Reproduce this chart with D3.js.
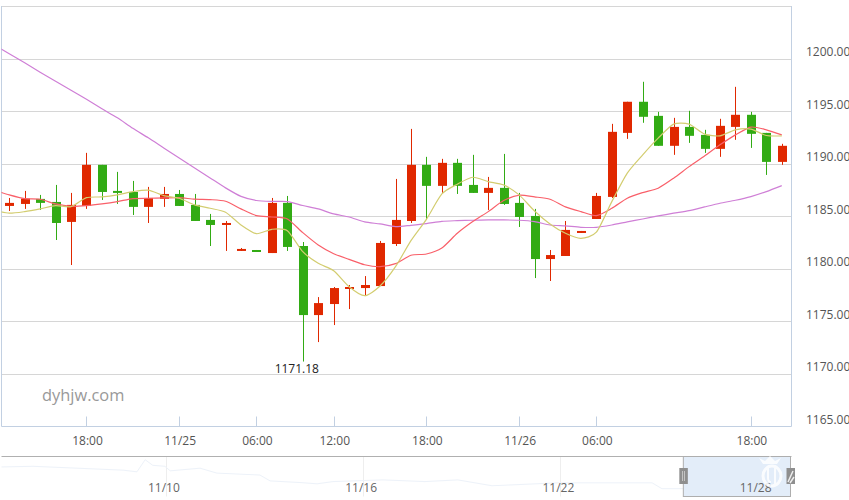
<!DOCTYPE html>
<html>
<head>
    <meta charset="UTF-8">
    <title>K line</title>
    <script src="https://cdn.jsdelivr.net/npm/d3@7/dist/d3.min.js"></script>
    <style>
        html, body { margin: 0; padding: 0; background: #fff; }
        text { font-family: "Open Sans", "Noto Sans", sans-serif; }
    </style>
</head>
<body>
<div id="chart"></div>
<script>
    // candle values, one entry per period
    const opens = [1185.98,1186.17,1186.65,1186.36,1184.46,1185.98,1189.89,1187.41,1187.31,1185.89,1186.65,1187.12,1186.08,1184.65,1184.17,1181.70,1181.79,1181.50,1186.27,1182.17,1175.60,1176.65,1178.08,1178.17,1178.36,1182.36,1184.55,1189.89,1187.89,1190.08,1187.98,1187.22,1187.70,1186.27,1185.03,1180.93,1181.22,1183.41,1184.74,1186.84,1192.93,1195.89,1194.55,1191.70,1193.50,1192.74,1191.41,1193.50,1194.65,1192.93,1190.17];
    const closes = [1186.27,1186.68,1186.27,1184.36,1186.08,1189.89,1187.31,1187.22,1185.89,1186.74,1187.12,1185.98,1184.55,1184.17,1184.36,1181.89,1181.60,1186.27,1182.08,1175.60,1176.74,1178.17,1178.27,1178.46,1182.46,1184.65,1189.89,1187.89,1190.08,1187.89,1187.22,1187.70,1186.17,1184.93,1180.93,1181.31,1183.70,1183.60,1186.93,1193.03,1195.89,1194.46,1191.70,1193.50,1192.65,1191.41,1193.60,1194.65,1192.84,1190.17,1191.70];
    const highs = [1186.74,1187.41,1187.03,1187.98,1187.22,1191.03,1189.89,1189.22,1188.36,1187.79,1187.79,1187.50,1187.12,1185.22,1184.55,1181.98,1181.79,1186.74,1186.93,1182.55,1177.31,1178.27,1178.46,1179.31,1182.65,1188.55,1193.31,1190.65,1190.46,1190.46,1190.84,1188.74,1190.93,1187.22,1185.70,1181.79,1184.55,1183.60,1187.22,1193.79,1195.89,1197.79,1194.93,1194.36,1195.03,1193.22,1194.27,1197.31,1194.93,1192.93,1191.89];
    const lows = [1185.50,1185.70,1185.60,1182.74,1180.36,1185.70,1186.55,1186.17,1185.12,1184.36,1185.89,1185.98,1184.55,1182.17,1181.70,1181.70,1181.60,1181.50,1181.70,1171.18,1173.03,1174.65,1176.17,1177.41,1178.36,1182.17,1184.36,1184.65,1187.22,1187.12,1187.22,1185.60,1186.08,1183.98,1179.12,1178.84,1181.22,1183.41,1184.74,1186.74,1192.36,1193.89,1191.70,1190.84,1191.98,1191.03,1190.65,1192.27,1191.50,1188.93,1189.89];

    // moving averages, first entry belongs to the period before the window
    const ma5 = [1185.55,1185.29,1185.44,1185.70,1186.01,1185.91,1186.77,1186.84,1187.03,1187.34,1187.48,1186.96,1186.71,1186.08,1185.76,1185.38,1184.17,1183.34,1183.76,1183.63,1181.63,1180.52,1179.82,1178.30,1177.44,1178.36,1180.20,1182.68,1184.71,1187.12,1188.05,1188.71,1188.30,1187.98,1187.03,1185.50,1184.27,1183.38,1182.90,1183.48,1186.39,1189.10,1190.84,1192.43,1193.76,1193.76,1192.81,1192.65,1193.22,1193.29,1192.68,1192.65];
    const ma10 = [1187.50,1187.03,1186.68,1186.62,1186.17,1185.95,1186.01,1186.17,1186.39,1186.68,1186.71,1186.74,1186.77,1186.62,1186.58,1186.43,1185.70,1185.06,1184.93,1184.74,1183.44,1182.27,1181.44,1180.90,1180.39,1180.20,1180.49,1181.29,1181.41,1181.98,1183.38,1184.49,1185.44,1186.49,1187.00,1186.84,1186.62,1185.89,1185.44,1185.06,1185.76,1186.71,1187.25,1187.67,1188.62,1189.72,1190.74,1191.79,1192.74,1193.48,1193.22,1192.74];
    const ma30 = [1201.31,1200.46,1199.60,1198.70,1197.84,1196.98,1196.12,1195.22,1194.36,1193.36,1192.46,1191.50,1190.55,1189.60,1188.65,1187.70,1186.89,1186.50,1186.41,1186.40,1186.02,1185.70,1185.22,1184.93,1184.46,1184.27,1184.01,1184.14,1184.30,1184.52,1184.58,1184.62,1184.65,1184.65,1184.62,1184.49,1184.17,1184.08,1183.95,1183.95,1184.17,1184.46,1184.74,1185.03,1185.29,1185.53,1185.89,1186.24,1186.52,1186.87,1187.34,1187.91];

    const priceTicks = [1165,1170,1175,1180,1185,1190,1195,1200,1205];
    const priceLabels = ["1165.00","1170.00","1175.00","1180.00","1185.00","1190.00","1195.00","1200.00"];
    const timeTicks = [5,11,16,21,27,33,38,48];
    const timeLabels = ["18:00","11/25","06:00","12:00","18:00","11/26","06:00","18:00"];
    const lowIndex = 19;
    const lowLabel = "1171.18";

    // overview strip under the chart
    const navDays = [5,5.96,8.7,9.12,9.37,9.6,9.97,10.13,11.04,11.55,12.86,13.17,14.08,14.6,15.08,16.6,17.88,18.88,19.92,21.93,24.79,25.09,25.73,27.01,28.98];
    const navPrices = [1297.8,1301,1281.7,1273.4,1333.9,1306,1301,1278.3,1291.5,1267,1257.3,1228,1219.8,1213.4,1224.6,1233,1224.6,1233,1203.7,1218.3,1218.3,1189,1189,1179.3,1179.3];
    const navTicks = [10,16,22,28];
    const navLabels = ["11/10","11/16","11/22","11/28"];
    const navWindow = [25.74,29];

    const width = 849, height = 500;
    const plotLeft = 1.5, plotRight = 791.5, plotTop = 6, plotBottom = 426.5;
    const navTop = 456.5, navBottom = 496.5;
    const upColor = "#e02800", downColor = "#32ab14";
    const axisColor = "#c2d0e2", gridColor = "#d6d6d6", textColor = "#555";

    const svg = d3.select("#chart").append("svg")
        .attr("width", width)
        .attr("height", height)
        .style("display", "block");

    const x = d3.scaleLinear().domain([0, opens.length]).range([1.5, 789.5]);
    const y = d3.scaleLinear().domain([1165, 1205]).range([plotBottom, plotTop]);
    const center = i => x(i + 0.5);

    svg.append("clipPath").attr("id", "plotClip").append("rect")
        .attr("x", plotLeft).attr("y", plotTop)
        .attr("width", plotRight - plotLeft).attr("height", plotBottom - plotTop);

    // grid lines
    svg.selectAll("line.grid")
        .data(priceTicks.slice(1))
        .enter().append("line")
        .attr("class", "grid")
        .attr("x1", plotLeft).attr("x2", plotRight)
        .attr("y1", d => Math.round(y(d)) + 0.5).attr("y2", d => Math.round(y(d)) + 0.5)
        .style("stroke", gridColor);

    // axis frame
    svg.append("path")
        .attr("d", `M${plotLeft},${plotTop}V${plotBottom}H${plotRight}V${plotTop}`)
        .style("fill", "none").style("stroke", axisColor);

    svg.selectAll("line.tick")
        .data(timeTicks)
        .enter().append("line")
        .attr("class", "tick")
        .attr("x1", d => Math.round(center(d)) + 0.5).attr("x2", d => Math.round(center(d)) + 0.5)
        .attr("y1", plotBottom).attr("y2", plotBottom - 10)
        .style("stroke", axisColor);

    svg.selectAll("text.timeLabel")
        .data(timeLabels)
        .enter().append("text")
        .attr("class", "timeLabel")
        .attr("x", (d, i) => center(timeTicks[i]) + 1)
        .attr("y", 445)
        .attr("text-anchor", "middle")
        .style("font-size", "12px")
        .style("fill", textColor)
        .text(d => d);

    svg.selectAll("text.priceLabel")
        .data(priceLabels)
        .enter().append("text")
        .attr("class", "priceLabel")
        .attr("x", 806)
        .attr("y", (d, i) => y(priceTicks[i]) - 2.5)
        .style("font-size", "12px")
        .style("fill", textColor)
        .text(d => d);

    svg.append("text")
        .attr("x", 42).attr("y", 401)
        .style("font-size", "16.4px")
        .style("fill", "#999")
        .text("dyhjw.com");

    // candles
    const candles = svg.append("g").selectAll("g")
        .data(opens.map((o, i) => ({i: i, open: o, close: closes[i], high: highs[i], low: lows[i]})))
        .enter().append("g")
        .style("fill", d => d.close >= d.open ? upColor : downColor)
        .style("stroke", d => d.close >= d.open ? upColor : downColor);

    candles.append("line")
        .attr("x1", d => Math.round(center(d.i)) + 0.5).attr("x2", d => Math.round(center(d.i)) + 0.5)
        .attr("y1", d => y(d.high)).attr("y2", d => y(d.low));

    candles.append("rect")
        .attr("x", d => Math.round(center(d.i)) - 4)
        .attr("width", 9)
        .attr("y", d => y(Math.max(d.open, d.close)))
        .attr("height", d => Math.max(2, Math.abs(y(d.open) - y(d.close))))
        .style("stroke", "none");

    // moving averages
    const maLine = d3.line()
        .x((d, i) => center(i - 1))
        .y(d => y(d))
        .curve(d3.curveCardinal.tension(0.3));

    [[ma30, "#cf7fd6"], [ma10, "#f9606a"], [ma5, "#d3cd70"]].forEach(s => {
        svg.append("path")
            .attr("d", maLine(s[0]))
            .attr("clip-path", "url(#plotClip)")
            .style("fill", "none")
            .style("stroke", s[1])
            .style("stroke-width", 1.2);
    });

    svg.append("text")
        .attr("x", center(lowIndex) - 6)
        .attr("y", y(lows[lowIndex]) + 11)
        .attr("text-anchor", "middle")
        .style("font-size", "12px")
        .style("fill", "#222")
        .text(lowLabel);

    // overview strip
    const navX = d3.scaleLinear().domain([5, 29]).range([1.5, 790.5]);
    const navY = d3.scaleLinear().domain([1150, 1350]).range([navBottom, navTop]);

    svg.selectAll("line.navTick")
        .data(navTicks)
        .enter().append("line")
        .attr("class", "navTick")
        .attr("x1", d => Math.round(navX(d)) + 0.5).attr("x2", d => Math.round(navX(d)) + 0.5)
        .attr("y1", navTop).attr("y2", navBottom)
        .style("stroke", "#eeeeee");

    svg.append("path")
        .attr("d", d3.line().x(d => navX(d[0])).y(d => navY(d[1]))(navDays.map((d, i) => [d, navPrices[i]])))
        .style("fill", "none")
        .style("stroke", "#edf2f9");

    svg.append("line")
        .attr("x1", plotLeft).attr("x2", plotRight)
        .attr("y1", navTop).attr("y2", navTop)
        .style("stroke", "#b0b0b0");

    svg.append("rect")
        .attr("x", navX(navWindow[0])).attr("y", navTop)
        .attr("width", navX(navWindow[1]) - navX(navWindow[0])).attr("height", navBottom - navTop)
        .style("fill", "#e3edf9")
        .style("stroke", "#aeaeae");

    svg.selectAll("text.navLabel")
        .data(navLabels)
        .enter().append("text")
        .attr("class", "navLabel")
        .attr("x", (d, i) => navX(navTicks[i]) - 2)
        .attr("y", 492)
        .attr("text-anchor", "middle")
        .style("font-size", "12px")
        .style("fill", "#666")
        .text(d => d);

    svg.selectAll("rect.navHandle")
        .data(navWindow)
        .enter().append("rect")
        .attr("class", "navHandle")
        .attr("x", d => navX(d) - 4)
        .attr("y", 468).attr("width", 8.5).attr("height", 16)
        .style("fill", "#8f8f8f");

    // grip marks on the left handle
    svg.append("path")
        .attr("d", "M682.5,471V481M684.5,471V481")
        .style("stroke", "#c4c4c4");

    // white logo stamped over the corner
    const logo = svg.append("g")
        .style("fill", "none")
        .style("stroke", "#fff")
        .style("opacity", 0.85);
    logo.append("path")
        .attr("d", "M759,458L763,464H777L781,458L775,461L770,456L765,461Z")
        .style("fill", "#fff").style("stroke", "none");
    logo.append("ellipse")
        .attr("cx", 772).attr("cy", 476).attr("rx", 9).attr("ry", 10)
        .style("stroke-width", 3);
    logo.append("path")
        .attr("d", "M768,468V478Q768,482 771,482M775,468V486")
        .style("stroke-width", 2);
    logo.append("path")
        .attr("d", "M788,482L793,471M790,483L794,477")
        .style("stroke-width", 1.5);
</script>
</body>
</html>
